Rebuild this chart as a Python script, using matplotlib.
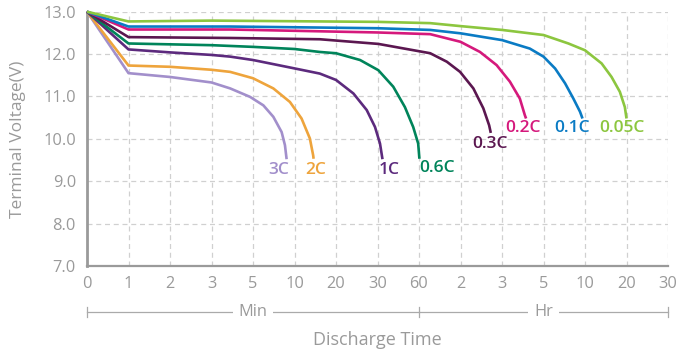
import matplotlib
matplotlib.use("Agg")
import matplotlib.pyplot as plt

# eixo x categórico: posições igualmente espaçadas
tick_labels = ["0", "1", "2", "3", "5", "10", "20", "30", "60",
               "2", "3", "5", "10", "20", "30"]

# curvas de descarga (x em índice de tick, tensão em V)
x_3c = [0, 1, 2, 3, 3.45, 3.93, 4.25, 4.49, 4.69, 4.77, 4.81]
v_3c = [13.0, 11.55, 11.46, 11.33, 11.19, 10.99, 10.79, 10.52, 10.16, 9.85, 9.52]

x_2c = [0, 1, 2, 3, 3.45, 4.0, 4.49, 4.89, 5.17, 5.37, 5.45, 5.46]
v_2c = [13.0, 11.73, 11.70, 11.63, 11.58, 11.43, 11.19, 10.87, 10.48, 10.01, 9.61, 9.53]

x_1c = [0, 1, 2, 3, 3.45, 4, 5.01, 5.61, 6.0, 6.42, 6.74, 6.94, 7.06, 7.12]
v_1c = [13.0, 12.11, 12.04, 11.98, 11.94, 11.86, 11.66, 11.54, 11.39, 11.07, 10.68, 10.28, 9.89, 9.52]

x_06c = [0, 1, 2, 3, 4, 5, 5.61, 6.0, 6.58, 7.02, 7.38, 7.66, 7.86, 7.98, 8.01]
v_06c = [13.0, 12.25, 12.23, 12.21, 12.17, 12.12, 12.05, 12.02, 11.86, 11.62, 11.23, 10.75, 10.28, 9.89, 9.53]

x_03c = [0, 1, 3.45, 5.61, 7.02, 8.27, 8.67, 8.99, 9.31, 9.55, 9.69, 9.73]
v_03c = [13.0, 12.40, 12.38, 12.35, 12.24, 12.02, 11.82, 11.58, 11.19, 10.72, 10.32, 10.14]

x_02c = [0, 1, 3.45, 7, 8.27, 9, 9.47, 9.87, 10.19, 10.43, 10.55, 10.58]
v_02c = [13.0, 12.58, 12.58, 12.51, 12.47, 12.29, 12.05, 11.74, 11.35, 10.95, 10.56, 10.48]

x_01c = [0, 1, 3.45, 7, 8.27, 9, 10, 10.67, 11, 11.28, 11.52, 11.72, 11.88, 11.94]
v_01c = [13.0, 12.65, 12.65, 12.61, 12.57, 12.49, 12.33, 12.13, 11.94, 11.66, 11.31, 10.95, 10.64, 10.48]

x_005c = [0, 1, 3, 7, 8.27, 9, 10, 11, 11.6, 12, 12.4, 12.64, 12.84, 12.96, 13.0]
v_005c = [13.0, 12.77, 12.79, 12.76, 12.73, 12.66, 12.57, 12.45, 12.25, 12.09, 11.78, 11.46, 11.11, 10.75, 10.48]

series = [
    ("3C", x_3c, v_3c, "#a28fcb", (4.63, 9.27)),
    ("2C", x_2c, v_2c, "#eea43c", (5.52, 9.27)),
    ("1C", x_1c, v_1c, "#5c2a7d", (7.28, 9.27)),
    ("0.6C", x_06c, v_06c, "#00845a", (8.43, 9.31)),
    ("0.3C", x_03c, v_03c, "#5b1750", (9.71, 9.87)),
    ("0.2C", x_02c, v_02c, "#d5197c", (10.51, 10.26)),
    ("0.1C", x_01c, v_01c, "#0a7bc4", (11.68, 10.26)),
    ("0.05C", x_005c, v_005c, "#8cc63f", (12.88, 10.26)),
]

GRAY = "#9a9a9a"
plt.rcParams["font.family"] = ["Open Sans", "DejaVu Sans"]

fig = plt.figure(figsize=(6.79, 3.49), dpi=100)
ax = fig.add_axes([87 / 679, 1 - 266 / 349, (668 - 87) / 679, (266 - 11.7) / 349])

for nome, xs, vs, cor, (tx, ty) in series:
    ax.plot(xs, vs, color=cor, lw=1.9, clip_on=False, solid_capstyle="butt",
            solid_joinstyle="round", zorder=3)
    ax.text(tx, ty, nome, color=cor, fontsize=12.5, fontweight="semibold",
            ha="center", va="center")

ax.set_xlim(0, 14)
ax.set_ylim(7, 13)
ax.set_xticks(range(len(tick_labels)))
ax.set_xticklabels(tick_labels)
ax.set_yticks([7, 8, 9, 10, 11, 12, 13])
ax.set_yticklabels(["7.0", "8.0", "9.0", "10.0", "11.0", "12.0", "13.0"])
ax.tick_params(length=0, colors=GRAY, labelsize=11.8, pad=7)
ax.tick_params(axis="y", pad=8)
ax.grid(True, ls=(0, (4, 3)), color="#d0d0d0", lw=0.9)
ax.set_axisbelow(True)
for lado in ["top", "right"]:
    ax.spines[lado].set_visible(False)
ax.spines["left"].set_color(GRAY)
ax.spines["left"].set_linewidth(2)
ax.spines["bottom"].set_color(GRAY)
ax.spines["bottom"].set_linewidth(1.6)
ax.set_ylabel("Terminal Voltage(V)", color=GRAY, fontsize=12.5, labelpad=12)

# colchetes Min / Hr abaixo do eixo
yb = 5.92
ax.plot([0, 8], [yb, yb], color="#aaaaaa", lw=0.9, clip_on=False)
ax.plot([8, 14], [yb, yb], color="#aaaaaa", lw=0.9, clip_on=False)
for xb in [0, 8, 14]:
    ax.plot([xb, xb], [yb - 0.12, yb + 0.12], color="#aaaaaa", lw=0.9, clip_on=False)
ax.text(4, yb, "Min", color=GRAY, fontsize=11.8, ha="center", va="center",
        bbox=dict(facecolor="white", edgecolor="none", pad=4))
ax.text(11, yb, "Hr", color=GRAY, fontsize=11.8, ha="center", va="center",
        bbox=dict(facecolor="white", edgecolor="none", pad=4))

fig.text(377 / 679, 1 - 340 / 349, "Discharge Time", color=GRAY, fontsize=13,
         ha="center", va="center")

fig.savefig("out.png", dpi=100)
